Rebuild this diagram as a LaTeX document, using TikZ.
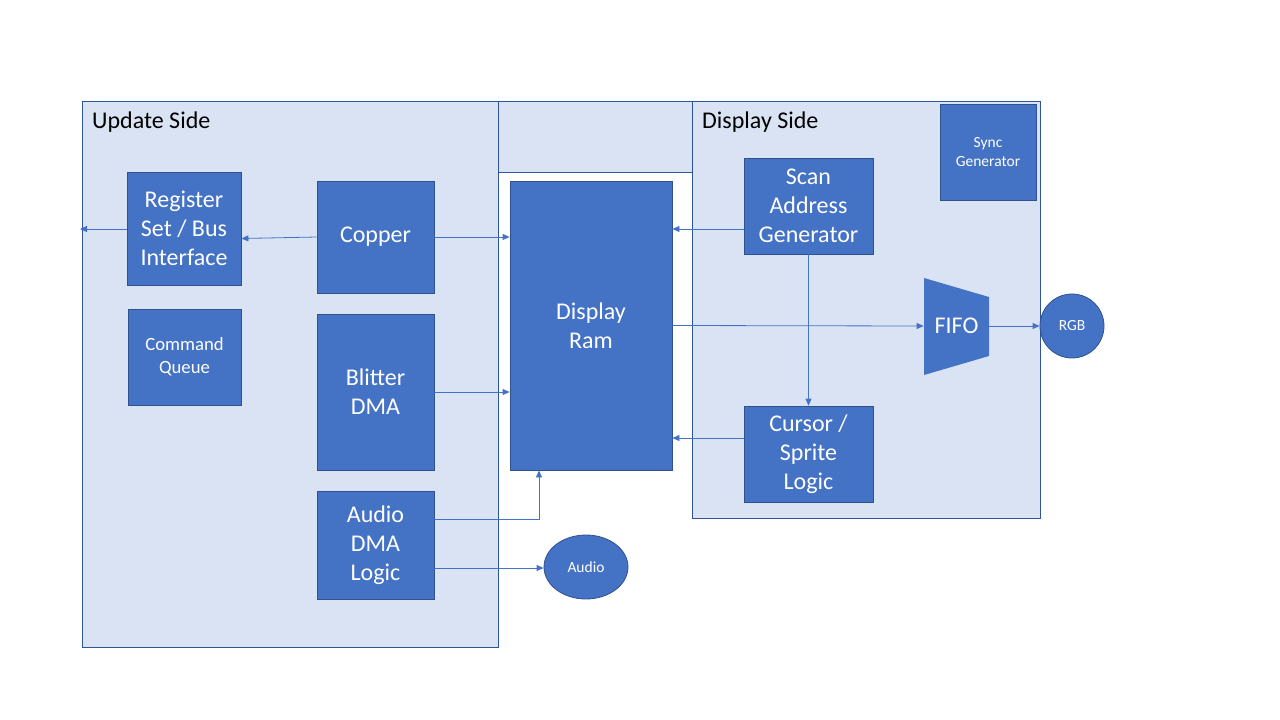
\documentclass[tikz,border=0pt]{standalone}
\usepackage{fontspec}
\setmainfont{Carlito}
\usetikzlibrary{arrows.meta,shapes.geometric}
\definecolor{boxblue}{HTML}{4472C4}
\definecolor{boxline}{HTML}{2F528F}
\definecolor{sidefill}{HTML}{DAE3F3}
\definecolor{sideline}{HTML}{2F5597}
\tikzset{
  blk/.style={draw=boxline, fill=boxblue, text=white, align=center, inner sep=0pt, line width=0.8pt, font=\fontsize{24}{29}\selectfont},
  smallblk/.style={blk, font=\fontsize{18.7}{23}\selectfont},
  tinyblk/.style={blk, font=\fontsize{15.5}{19}\selectfont},
  side/.style={draw=sideline, fill=sidefill, line width=0.8pt},
  sidetitle/.style={anchor=west, inner sep=0pt, font=\fontsize{24}{29}\selectfont},
  arr/.style={draw=boxblue, line width=0.8pt, -{Triangle[length=7pt,width=6pt]}}
}
\begin{document}
\begin{tikzpicture}[x=1pt,y=-1pt]
\useasboundingbox (0,0) rectangle (1280,720);
% the two sides
\draw[side] (82,101) rectangle (498,647);
\draw[side] (498,101) rectangle (692,172);
\draw[side] (692,101) rectangle (1040,518);
\node[sidetitle](upd) at (92,122) {Update Side};
\node[sidetitle](disp) at (702,122) {Display Side};
% update side blocks
\node[blk,minimum width=114,minimum height=113](reg) at (184,228.5) {Register\\Set / Bus\\Interface};
\node[blk,minimum width=117,minimum height=112](copper) at (375.5,237) {Copper};
\node[smallblk,minimum width=113,minimum height=96](cmdq) at (184.5,357) {Command\\Queue};
\node[blk,minimum width=117,minimum height=156](blit) at (375.5,392) {Blitter\\DMA};
\node[blk,minimum width=117,minimum height=108](adma) at (375.5,545) {Audio\\DMA\\Logic};
\node[blk,minimum width=162,minimum height=289](ram) at (591,325.5) {Display\\Ram};
\node[tinyblk,ellipse,minimum width=84,minimum height=64](audio) at (586,567) {Audio};
% display side blocks
\node[blk,minimum width=129,minimum height=96](scan) at (808.5,206) {Scan\\Address\\Generator};
\node[tinyblk,minimum width=96,minimum height=96](sync) at (988,152) {Sync\\Generator};
\node[blk,minimum width=129,minimum height=96](cursor) at (808.5,454) {Cursor /\\Sprite\\Logic};
\fill[boxblue] (924,278) -- (989,297) -- (989,356) -- (924,375) -- cycle;
\node[blk,draw=none,fill=none,minimum width=65,minimum height=59](fifo) at (956.5,326) {FIFO};
\node[tinyblk,circle,minimum size=64](rgb) at (1072,326) {RGB};
% connectors
\coordinate (busout) at (80,229);
\coordinate (scanout) at (744,229);
\coordinate (curout) at (744,438);
\coordinate (admaup) at (434,519);
\coordinate (admaout) at (434,568);
\draw[arr] (reg.west |- busout) -- (busout);
\draw[arr] (copper.west) -- ([yshift=-10]reg.east);
\draw[arr] (copper.east) -- (copper.east -| ram.west);
\draw[arr] (blit.east) -- (blit.east -| ram.west);
\draw[arr] (admaup) -| ([xshift=-52]ram.south);
\draw[arr] (admaout) -- (admaout -| audio.west);
\draw[arr] (scanout) -- (scanout -| ram.east);
\draw[arr] (curout) -- (curout -| ram.east);
\draw[arr] (scan.south) -- (cursor.north);
\draw[arr] (ram.east) -- (fifo.west);
\draw[arr] (fifo.east) -- (rgb.west);
\end{tikzpicture}
\end{document}
